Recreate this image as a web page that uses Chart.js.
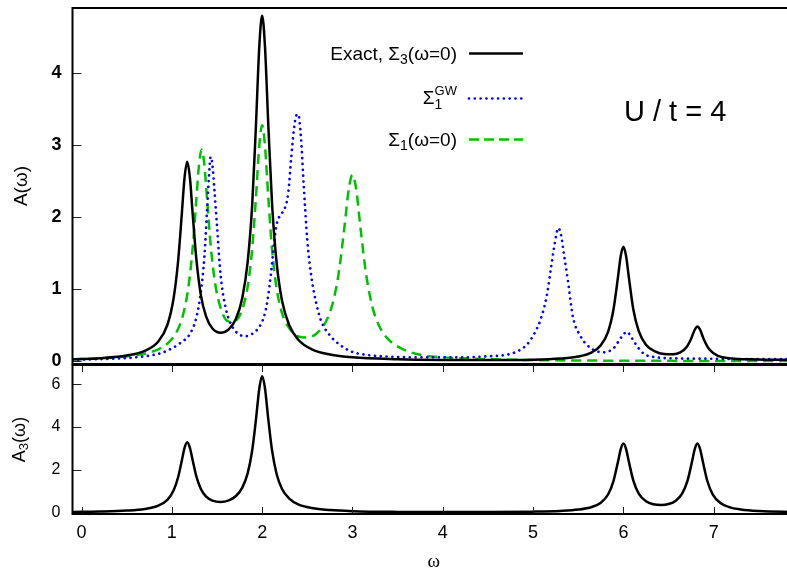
<!DOCTYPE html>
<html>
<head>
<meta charset="utf-8">
<script src="https://cdn.jsdelivr.net/npm/chart.js@4.4.1/dist/chart.umd.min.js"></script>
<style>
  html, body { margin: 0; padding: 0; background: #fff; overflow: hidden; }
  #wrap { position: relative; width: 800px; height: 571px; }
  #wrap canvas { position: absolute; left: 0; top: 0; }
</style>
</head>
<body>
<div id="wrap">
  <canvas id="topChart" width="800" height="571"></canvas>
  <canvas id="bottomChart" width="800" height="571"></canvas>
</div>
<script>
// tick positions
const xTicks = [0, 1, 2, 3, 4, 5, 6, 7];
const yTicksTop = [0, 1, 2, 3, 4];
const yTicksBottom = [0, 2, 4, 6];

// Exact, Sigma_3(w=0)
const exactW = [-0.1, 0.2, 0.5, 0.7, 0.85, 0.95, 1.02, 1.07, 1.11, 1.14, 1.17, 1.2, 1.23, 1.27, 1.32, 1.38, 1.45, 1.54, 1.63, 1.71,
  1.78, 1.84, 1.89, 1.93, 1.97, 2.0, 2.03, 2.07, 2.11, 2.16, 2.22, 2.3, 2.4, 2.55, 2.75, 3.0, 3.5, 4.0, 4.5, 5.0,
  5.3, 5.5, 5.65, 5.75, 5.83, 5.89, 5.94, 5.97, 6.0, 6.03, 6.06, 6.11, 6.17, 6.25, 6.35, 6.45, 6.55, 6.63, 6.7, 6.75,
  6.79, 6.82, 6.85, 6.89, 6.95, 7.05, 7.2, 7.4, 7.6, 7.9];
const exactA = [0.028, 0.043, 0.080, 0.145, 0.276, 0.504, 0.88, 1.40, 2.04, 2.54, 2.77, 2.55, 2.06, 1.44, 0.93, 0.62, 0.456, 0.397, 0.443, 0.59,
  0.88, 1.385, 2.18, 3.24, 4.41, 4.80, 4.40, 3.23, 2.18, 1.37, 0.84, 0.50, 0.30, 0.166, 0.094, 0.055, 0.029, 0.019, 0.017, 0.022,
  0.038, 0.067, 0.125, 0.224, 0.41, 0.72, 1.17, 1.46, 1.59, 1.46, 1.17, 0.72, 0.42, 0.231, 0.137, 0.10, 0.097, 0.123, 0.198, 0.314,
  0.438, 0.482, 0.436, 0.306, 0.166, 0.075, 0.04, 0.027, 0.022, 0.02];

// Sigma_1^GW
const gwW = [-0.1, 0.2, 0.5, 0.7, 0.87, 1.0, 1.1, 1.2, 1.27, 1.32, 1.36, 1.39, 1.41, 1.43, 1.45, 1.47, 1.5, 1.54, 1.6, 1.67,
  1.75, 1.82, 1.9, 1.97, 2.02, 2.06, 2.1, 2.13, 2.16, 2.2, 2.25, 2.29, 2.32, 2.35, 2.38, 2.4, 2.43, 2.46, 2.5, 2.55,
  2.6, 2.65, 2.75, 2.86, 3.0, 3.15, 3.4, 3.8, 4.2, 4.5, 4.74, 4.93, 5.02, 5.08, 5.15, 5.2, 5.24, 5.28, 5.31, 5.34,
  5.39, 5.44, 5.52, 5.63, 5.78, 5.89, 5.98, 6.04, 6.08, 6.13, 6.22, 6.37, 6.6, 7.0, 7.4, 7.9];
const gwA = [0.02, 0.03, 0.045, 0.07, 0.11, 0.18, 0.26, 0.38, 0.6, 0.95, 1.45, 2.1, 2.55, 2.84, 2.72, 2.4, 1.88, 1.2, 0.72, 0.48,
  0.37, 0.35, 0.39, 0.48, 0.62, 0.85, 1.25, 1.62, 1.9, 2.03, 2.12, 2.35, 2.8, 3.2, 3.42, 3.43, 3.1, 2.45, 1.68, 1.13,
  0.8, 0.57, 0.36, 0.23, 0.13, 0.09, 0.065, 0.055, 0.055, 0.07, 0.1, 0.23, 0.4, 0.57, 0.9, 1.31, 1.64, 1.85, 1.75, 1.5,
  1.08, 0.62, 0.36, 0.19, 0.125, 0.18, 0.34, 0.41, 0.35, 0.25, 0.11, 0.055, 0.04, 0.035, 0.03, 0.03];

// Sigma_1(w=0)
const s1W = [-0.1, 0.2, 0.5, 0.7, 0.85, 0.95, 1.05, 1.12, 1.18, 1.23, 1.27, 1.3, 1.33, 1.36, 1.39, 1.43, 1.48, 1.55, 1.63, 1.71,
  1.78, 1.84, 1.89, 1.93, 1.97, 2.0, 2.03, 2.07, 2.11, 2.16, 2.22, 2.3, 2.4, 2.5, 2.6, 2.7, 2.78, 2.85, 2.91, 2.96,
  3.0, 3.04, 3.09, 3.15, 3.22, 3.3, 3.4, 3.55, 3.75, 4.0, 4.4, 5.0, 5.5, 6.0, 6.5, 7.0, 7.9];
const s1A = [0.028, 0.041, 0.068, 0.106, 0.166, 0.244, 0.40, 0.626, 1.00, 1.564, 2.225, 2.718, 2.94, 2.732, 2.25, 1.61, 1.077, 0.704, 0.555, 0.57,
  0.724, 1.04, 1.567, 2.25, 3.02, 3.28, 3.01, 2.24, 1.545, 1.01, 0.67, 0.46, 0.345, 0.33, 0.383, 0.536, 0.80, 1.245, 1.855, 2.40,
  2.59, 2.40, 1.84, 1.22, 0.76, 0.48, 0.30, 0.174, 0.09, 0.055, 0.033, 0.017, 0.011, 0.008, 0.006, 0.005, 0.004];

// A_3(w), lower panel
const a3W = [-0.1, 0.2, 0.5, 0.7, 0.85, 0.95, 1.02, 1.07, 1.11, 1.14, 1.17, 1.2, 1.23, 1.27, 1.32, 1.38, 1.45, 1.54, 1.63, 1.71,
  1.78, 1.84, 1.89, 1.93, 1.97, 2.0, 2.03, 2.07, 2.11, 2.16, 2.22, 2.3, 2.4, 2.55, 2.75, 3.0, 3.5, 4.0, 4.5, 5.0,
  5.3, 5.5, 5.65, 5.75, 5.83, 5.89, 5.94, 5.97, 6.0, 6.03, 6.06, 6.11, 6.17, 6.25, 6.33, 6.42, 6.5, 6.58, 6.65, 6.71,
  6.76, 6.79, 6.82, 6.85, 6.88, 6.93, 6.99, 7.07, 7.17, 7.3, 7.5, 7.9];
const a3A = [0.034, 0.053, 0.098, 0.176, 0.332, 0.604, 1.05, 1.67, 2.43, 3.02, 3.29, 3.03, 2.46, 1.72, 1.12, 0.75, 0.565, 0.50, 0.575, 0.78,
  1.17, 1.85, 2.92, 4.30, 5.85, 6.38, 5.85, 4.29, 2.90, 1.81, 1.11, 0.66, 0.39, 0.22, 0.124, 0.073, 0.039, 0.032, 0.033, 0.05,
  0.084, 0.145, 0.267, 0.47, 0.85, 1.48, 2.38, 2.96, 3.23, 2.97, 2.39, 1.50, 0.89, 0.535, 0.395, 0.358, 0.405, 0.56, 0.89, 1.50,
  2.39, 2.97, 3.23, 2.96, 2.38, 1.47, 0.85, 0.47, 0.263, 0.151, 0.081, 0.038];

const FONT = '"Liberation Sans", Arial, Helvetica, sans-serif';
Chart.defaults.font.family = FONT;
Chart.defaults.color = '#000';

const X_MIN = -0.1, X_MAX = 7.9;

function toPoints(ws, as) {
  return ws.map((w, i) => ({ x: w, y: as[i] }));
}

// fixed axis box, no extra room for the end labels
function fixWidth(w) {
  return s => {
    s.width = w;
    s.paddingTop = 0;
    s.paddingBottom = 0;
  };
}

// text with sub/superscripts: parts = [{t, s, dy, up, us, udy}]
function drawRich(ctx, parts, x, y, align) {
  const widthOf = p => {
    ctx.font = p.s + 'px ' + FONT;
    let w = ctx.measureText(p.t).width;
    if (p.up) {
      ctx.font = p.us + 'px ' + FONT;
      w = Math.max(w, ctx.measureText(p.up).width);
    }
    return w;
  };
  const total = parts.reduce((s, p) => s + widthOf(p), 0);
  let cx = align === 'right' ? x - total : align === 'center' ? x - total / 2 : x;
  ctx.textAlign = 'left';
  parts.forEach(p => {
    const w = widthOf(p);
    ctx.font = p.s + 'px ' + FONT;
    ctx.fillText(p.t, cx, y + (p.dy || 0));
    if (p.up) {
      ctx.font = p.us + 'px ' + FONT;
      ctx.fillText(p.up, cx, y + p.udy);
    }
    cx += w;
  });
}

// frame, inward ticks and axis titles
const framePlugin = {
  id: 'frame',
  afterDatasetsDraw(chart, args, opts) {
    const { ctx, chartArea: a, scales: { x, y } } = chart;
    ctx.save();
    ctx.lineWidth = 1;
    ctx.strokeStyle = '#222';
    ctx.beginPath();
    y.ticks.forEach(t => {
      const py = Math.round(y.getPixelForValue(t.value)) + 0.5;
      ctx.moveTo(a.left, py);
      ctx.lineTo(a.left + 9, py);
    });
    if (opts.xTicks) {
      x.ticks.forEach(t => {
        const px = Math.round(x.getPixelForValue(t.value)) + 0.5;
        ctx.moveTo(px, a.top);
        ctx.lineTo(px, a.top + 7);
        ctx.moveTo(px, a.bottom);
        ctx.lineTo(px, a.bottom - 7);
      });
    }
    ctx.stroke();

    ctx.lineWidth = 2;
    ctx.strokeStyle = '#000';
    ctx.strokeRect(a.left, a.top, a.right - a.left, a.bottom - a.top);

    ctx.fillStyle = '#000';
    if (opts.xTitle) {
      ctx.font = '19px "Liberation Serif", serif';
      ctx.textAlign = 'center';
      ctx.textBaseline = 'middle';
      ctx.fillText(opts.xTitle, (a.left + a.right) / 2, 562);
    }
    ctx.textBaseline = 'middle';
    ctx.translate(opts.titleX, (a.top + a.bottom) / 2);
    ctx.rotate(-Math.PI / 2);
    drawRich(ctx, opts.title, 0, 0, 'center');
    ctx.restore();
  }
};

// key and U/t label of the upper panel
const keyPlugin = {
  id: 'key',
  afterDatasetsDraw(chart) {
    const { ctx } = chart;
    const rows = [
      { y: 60, line: 53.5, parts: [{ t: 'Exact, Σ', s: 19 }, { t: '3', s: 14, dy: 3.5 }, { t: '(ω=0)', s: 19 }] },
      { y: 104, line: 98.5, parts: [{ t: 'Σ', s: 19 }, { t: '1', s: 14, dy: 4.5, up: 'GW', us: 13, udy: -9 }] },
      { y: 146, line: 139.5, parts: [{ t: 'Σ', s: 19 }, { t: '1', s: 14, dy: 3.5 }, { t: '(ω=0)', s: 19 }] }
    ];
    ctx.save();
    ctx.fillStyle = '#000';
    ctx.textBaseline = 'alphabetic';
    rows.forEach((r, i) => {
      drawRich(ctx, r.parts, 457, r.y, 'right');
      const ds = chart.data.datasets[i];
      ctx.beginPath();
      ctx.strokeStyle = ds.borderColor;
      ctx.lineWidth = ds.borderWidth;
      ctx.lineCap = ds.borderCapStyle || 'butt';
      ctx.setLineDash(i === 2 ? [10, 5] : (ds.borderDash || []));
      ctx.moveTo(469, r.line);
      ctx.lineTo(523, r.line);
      ctx.stroke();
    });
    ctx.setLineDash([]);
    ctx.font = '29px ' + FONT;
    ctx.textAlign = 'left';
    ctx.fillText('U / t = 4', 624, 121);
    ctx.restore();
  }
};

const lineDefaults = { fill: false, pointRadius: 0, cubicInterpolationMode: 'monotone' };

new Chart(document.getElementById('topChart'), {
  type: 'line',
  data: {
    datasets: [
      { ...lineDefaults, label: 'Exact', data: toPoints(exactW, exactA), borderColor: '#000', borderWidth: 2.5 },
      { ...lineDefaults, label: 'GW', data: toPoints(gwW, gwA), borderColor: '#0000ff', borderWidth: 2.7,
        borderDash: [0.01, 5.8], borderCapStyle: 'round' },
      { ...lineDefaults, label: 'Sigma1', data: toPoints(s1W, s1A), borderColor: '#00c000', borderWidth: 2.5,
        borderDash: [10, 6] }
    ]
  },
  options: {
    responsive: false,
    animation: false,
    layout: { padding: { top: 8, bottom: 207, left: 0, right: 5 } },
    plugins: {
      legend: { display: false },
      tooltip: { enabled: false },
      frame: { title: [{ t: 'A(ω)', s: 19 }], titleX: 22 }
    },
    scales: {
      x: { type: 'linear', min: X_MIN, max: X_MAX, display: false },
      y: {
        min: -0.0375, max: 4.907,
        afterFit: fixWidth(72.5),
        afterBuildTicks(s) { s.ticks = yTicksTop.map(v => ({ value: v })); },
        grid: { display: false },
        border: { display: false },
        ticks: { font: { size: 18, weight: 'bold' }, color: '#000', padding: 3 }
      }
    }
  },
  plugins: [framePlugin, keyPlugin]
});

new Chart(document.getElementById('bottomChart'), {
  type: 'line',
  data: {
    datasets: [
      { ...lineDefaults, label: 'A3', data: toPoints(a3W, a3A), borderColor: '#000', borderWidth: 2.5 }
    ]
  },
  options: {
    responsive: false,
    animation: false,
    layout: { padding: { top: 365, bottom: 0, left: 0, right: 5 } },
    plugins: {
      legend: { display: false },
      tooltip: { enabled: false },
      frame: {
        xTicks: true,
        xTitle: 'ω',
        titleX: 20,
        title: [{ t: 'A', s: 18 }, { t: '3', s: 13, dy: 4 }, { t: '(ω)', s: 18 }]
      }
    },
    scales: {
      x: {
        type: 'linear', min: X_MIN, max: X_MAX,
        afterFit(s) {
          s.height = 57;
          s.paddingLeft = 0;
          s.paddingRight = 0;
        },
        afterBuildTicks(s) { s.ticks = xTicks.map(v => ({ value: v })); },
        grid: { display: false },
        border: { display: false },
        ticks: { font: { size: 18 }, color: '#000', padding: 0, maxRotation: 0 }
      },
      y: {
        min: -0.06, max: 6.9,
        afterFit: fixWidth(72.5),
        afterBuildTicks(s) { s.ticks = yTicksBottom.map(v => ({ value: v })); },
        grid: { display: false },
        border: { display: false },
        ticks: { font: { size: 16 }, color: '#000', padding: 4 }
      }
    }
  },
  plugins: [framePlugin]
});
</script>
</body>
</html>
